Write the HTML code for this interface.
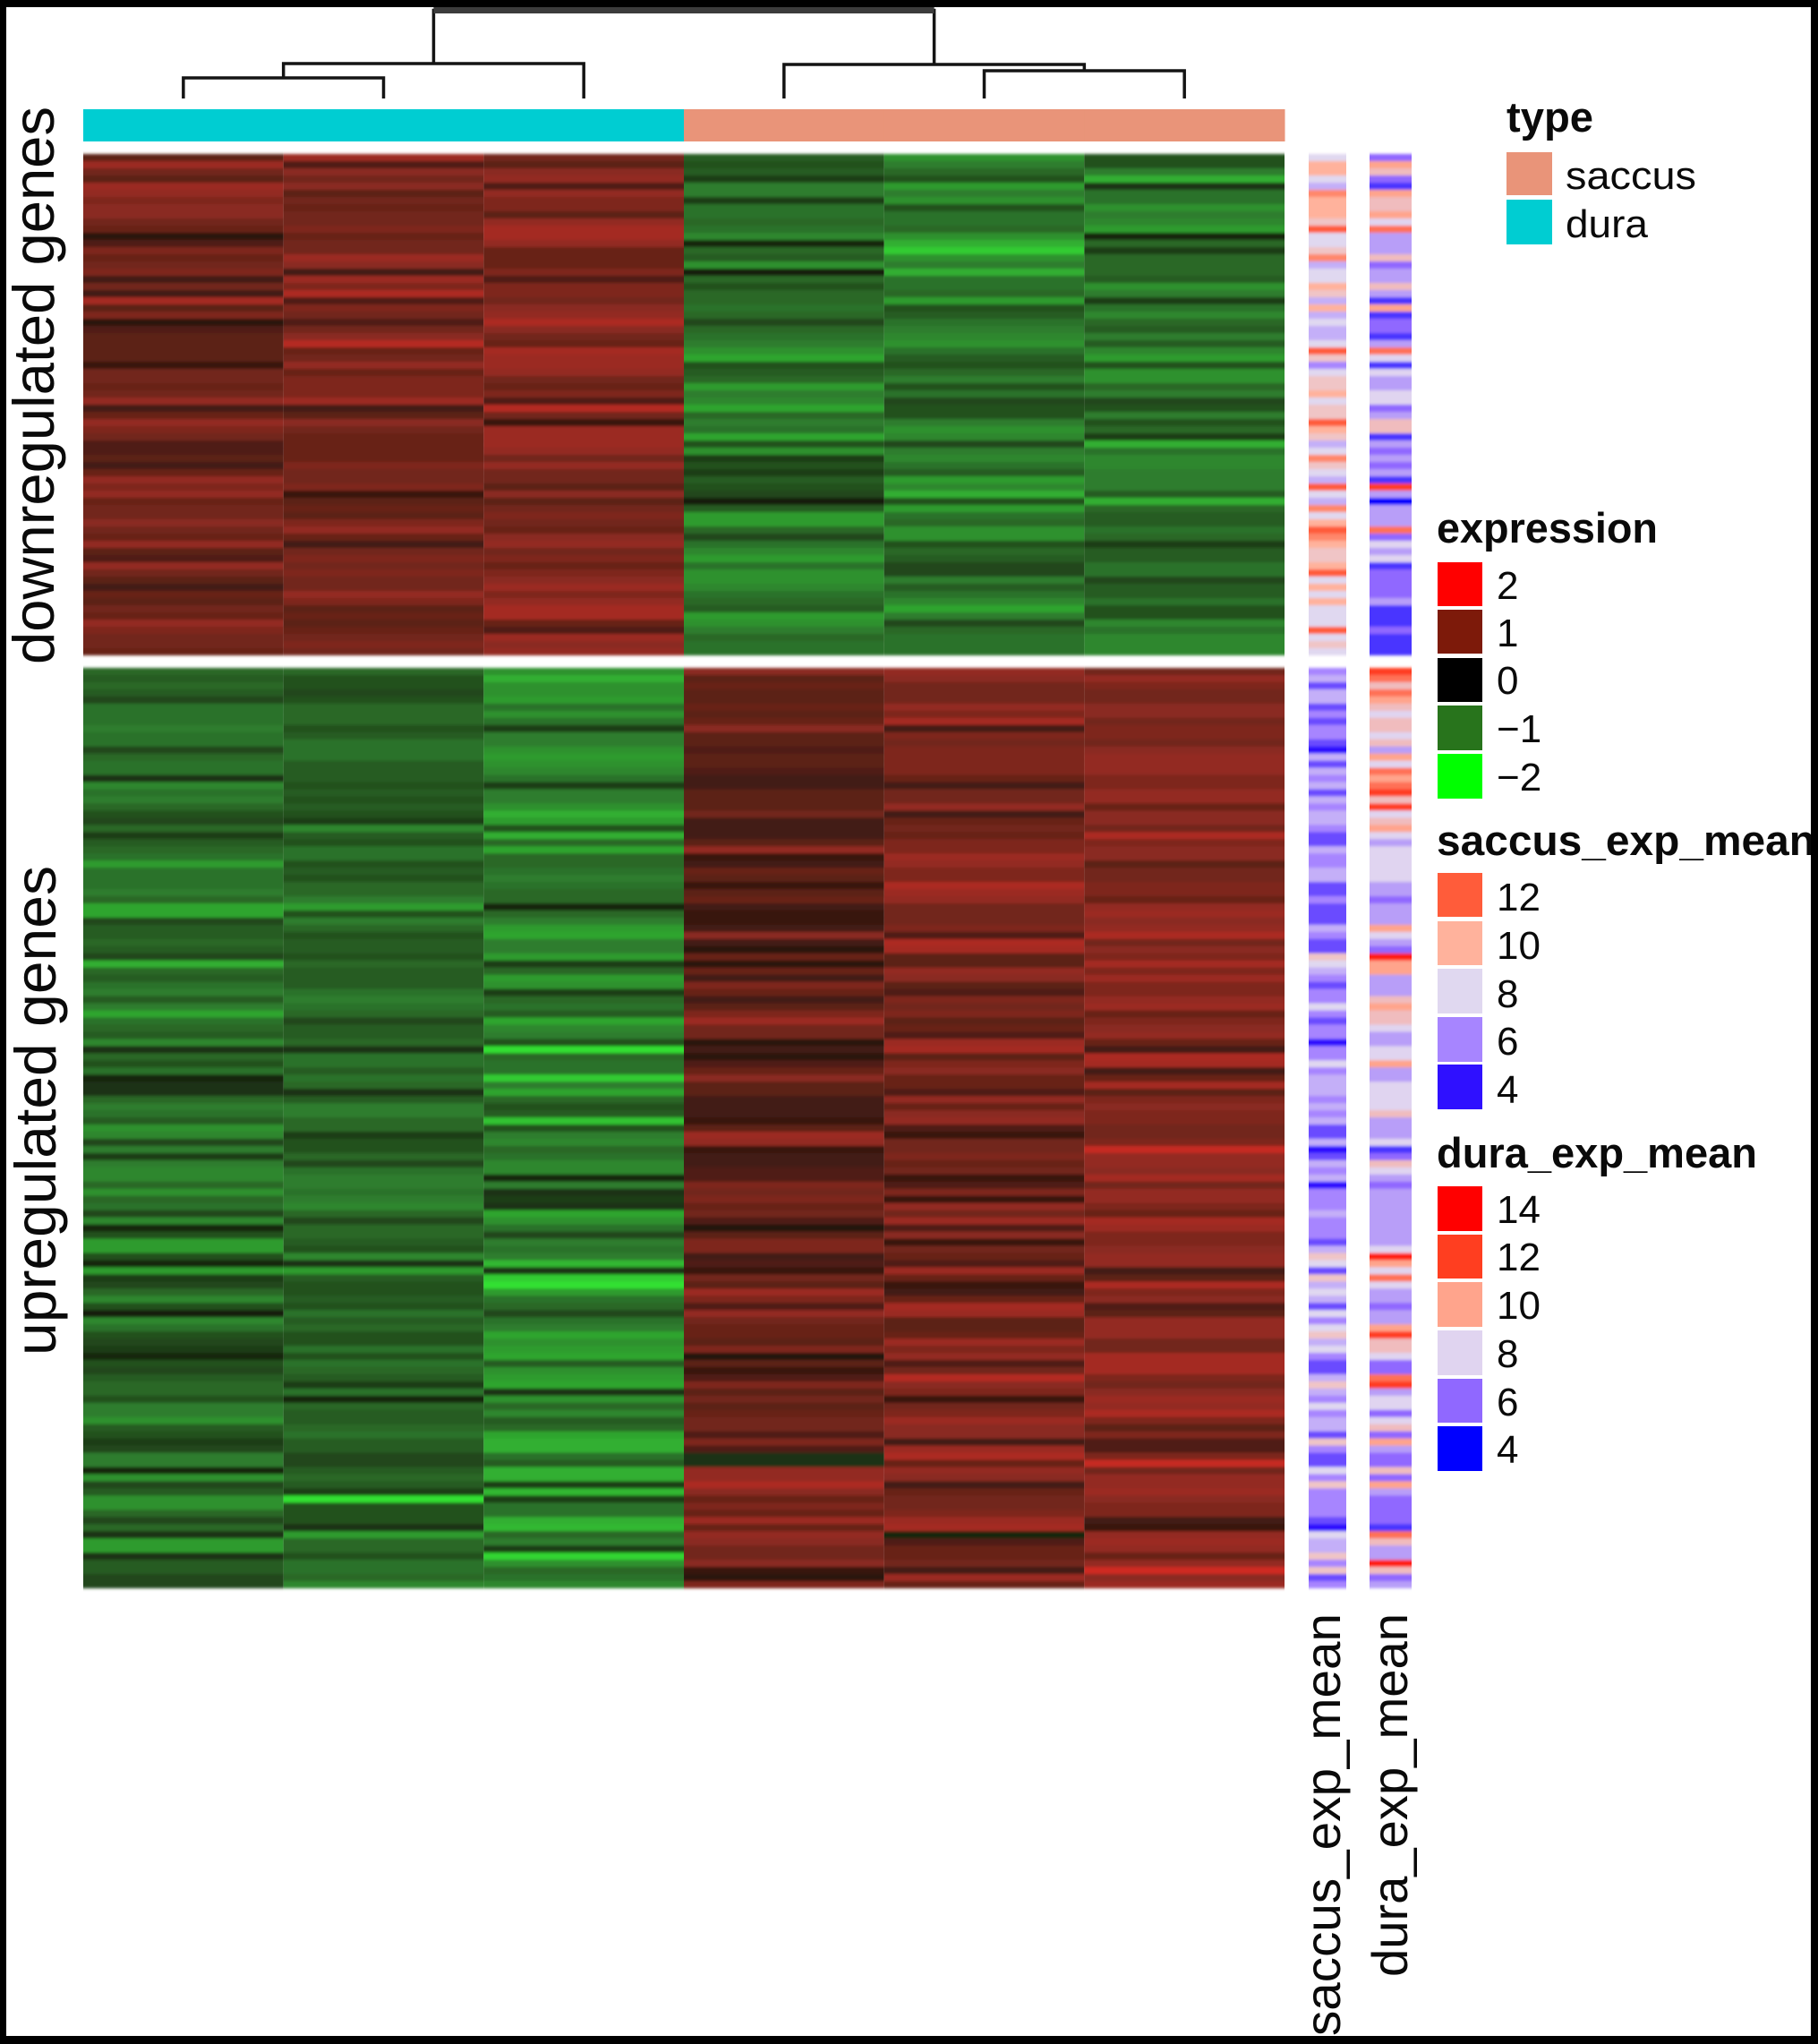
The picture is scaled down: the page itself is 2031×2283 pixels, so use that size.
<!DOCTYPE html>
<html lang="en">
<head>
<meta charset="utf-8">
<title>Expression heatmap</title>
<style>
html,body{margin:0;padding:0;background:#fff}
svg{display:block}
text{font-family:"Liberation Sans",sans-serif;fill:#0a0a0a}
.t{font-weight:bold;font-size:47px}
.l{font-size:44px}
.r{font-size:65px}
.a{font-size:56px}
</style>
</head>
<body>
<svg id="chart" width="2031" height="2283" viewBox="0 0 2031 2283" xmlns="http://www.w3.org/2000/svg">
<defs><filter id="soft" x="0" y="-2%" width="100%" height="104%"><feGaussianBlur stdDeviation="0 1.6"/></filter></defs>
<rect width="2031" height="2283" fill="#fff"/>
<g id="dendrogram"></g>
<g id="typeBar"></g>
<g id="heat" filter="url(#soft)"></g>
<g id="side" filter="url(#soft)"></g>

<text class="r" transform="translate(60,742) rotate(-90)" textLength="623" lengthAdjust="spacingAndGlyphs">downregulated genes</text>
<text class="r" transform="translate(62,1514) rotate(-90)" textLength="547" lengthAdjust="spacingAndGlyphs">upregulated genes</text>
<text class="a" text-anchor="end" transform="translate(1497,1802) rotate(-90)" textLength="472" lengthAdjust="spacingAndGlyphs">saccus_exp_mean</text>
<text class="a" text-anchor="end" transform="translate(1572,1802) rotate(-90)" textLength="406" lengthAdjust="spacingAndGlyphs">dura_exp_mean</text>

<g>
<text class="t" x="1683" y="147" textLength="97" lengthAdjust="spacingAndGlyphs">type</text>
<rect x="1683" y="170" width="51" height="48" fill="#e99479"/>
<rect x="1683" y="223" width="51" height="50" fill="#00cdd2"/>
<text class="l" x="1749" y="211" textLength="146" lengthAdjust="spacingAndGlyphs">saccus</text>
<text class="l" x="1749" y="265" textLength="92" lengthAdjust="spacingAndGlyphs">dura</text>
</g>

<g>
<text class="t" x="1605" y="606" textLength="247" lengthAdjust="spacingAndGlyphs">expression</text>
<rect x="1606" y="628" width="50" height="49" fill="#ff0000"/>
<rect x="1606" y="681" width="50" height="49" fill="#7d1a0a"/>
<rect x="1606" y="735" width="50" height="49" fill="#000000"/>
<rect x="1606" y="788" width="50" height="50" fill="#28741c"/>
<rect x="1606" y="842" width="50" height="50" fill="#00ff00"/>
<text class="l" x="1672" y="669">2</text>
<text class="l" x="1672" y="722">1</text>
<text class="l" x="1672" y="775">0</text>
<text class="l" x="1672" y="829">−1</text>
<text class="l" x="1672" y="883">−2</text>
</g>

<g>
<text class="t" x="1605" y="955" textLength="423" lengthAdjust="spacingAndGlyphs">saccus_exp_mean</text>
<rect x="1606" y="975" width="50" height="49" fill="#ff5c3a"/>
<rect x="1606" y="1029" width="50" height="49" fill="#ffb29c"/>
<rect x="1606" y="1082" width="50" height="50" fill="#e0d8f0"/>
<rect x="1606" y="1136" width="50" height="50" fill="#a785ff"/>
<rect x="1606" y="1189" width="50" height="50" fill="#2f10ff"/>
<text class="l" x="1672" y="1017">12</text>
<text class="l" x="1672" y="1071">10</text>
<text class="l" x="1672" y="1125">8</text>
<text class="l" x="1672" y="1178">6</text>
<text class="l" x="1672" y="1232">4</text>
</g>

<g>
<text class="t" x="1605" y="1304" textLength="358" lengthAdjust="spacingAndGlyphs">dura_exp_mean</text>
<rect x="1606" y="1325" width="50" height="50" fill="#ff0000"/>
<rect x="1606" y="1379" width="50" height="49" fill="#ff3e20"/>
<rect x="1606" y="1432" width="50" height="50" fill="#ffa48c"/>
<rect x="1606" y="1486" width="50" height="50" fill="#e0d4f0"/>
<rect x="1606" y="1540" width="50" height="49" fill="#9068ff"/>
<rect x="1606" y="1593" width="50" height="50" fill="#0000ff"/>
<text class="l" x="1672" y="1366">14</text>
<text class="l" x="1672" y="1419">12</text>
<text class="l" x="1672" y="1473">10</text>
<text class="l" x="1672" y="1527">8</text>
<text class="l" x="1672" y="1581">6</text>
<text class="l" x="1672" y="1634">4</text>
</g>

<path d="M0 0H2031V2283H0ZM7 8V2274H2023V8Z" fill="#000" fill-rule="evenodd"/>
</svg>

<script>
// Sample order left to right, with annotation class.
const sampleTypes = ["dura","dura","dura","saccus","saccus","saccus"];

// Dendrogram merges: [left child, right child, height]. Child ids 0-5 are leaves, 6+ earlier merges.
const dendroMerges = [[0,1,23],[6,2,39],[4,5,31],[3,8,38],[7,9,98.5]];

// Expression values in tenths (12 = 1.2), one array per sample, rows top to bottom.
const topS1 = [6,12,8,6,12,11,9,10,10,8,7,2,5,9,7,8,9,4,8,4,13,6,9,2,5,6,6,6,6,3,8,8,7,8,11,4,7,11,9,8,5,5,6,4,7,11,9,11,7,8,8,10,8,7,11,6,5,11,8,6,4,7,6,8,7,11,9,8,8,7];
const topS2 = [12,5,10,8,10,6,8,7,8,8,9,7,8,8,12,10,4,12,9,14,5,9,8,5,8,10,15,7,8,11,7,9,9,9,12,4,6,10,8,7,7,7,7,9,8,8,9,3,6,7,6,9,11,7,4,8,9,8,9,8,8,11,9,6,7,6,7,8,9,8];
const topS3 = [8,6,10,11,5,11,9,9,6,11,13,13,11,7,7,7,9,5,9,9,8,10,11,14,10,8,7,13,12,12,11,8,7,9,5,15,8,3,12,12,12,11,8,11,8,8,6,10,6,8,9,8,7,10,11,8,9,7,9,10,12,9,11,13,13,7,5,12,10,11];
const topS4 = [-7,-6,-7,-4,-10,-10,-4,-9,-9,-8,-9,-11,-2,-8,-7,-12,-1,-8,-6,-8,-8,-9,-8,-5,-8,-9,-10,-12,-14,-6,-7,-8,-13,-10,-11,-14,-8,-10,-9,-14,-6,-12,-4,-6,-4,-7,-6,-5,-1,-7,-13,-13,-8,-5,-9,-11,-13,-9,-12,-12,-11,-9,-8,-7,-13,-12,-10,-8,-9,-9];
const topS5 = [-12,-10,-8,-6,-13,-10,-12,-6,-9,-9,-8,-12,-15,-18,-12,-10,-15,-9,-9,-8,-13,-6,-7,-9,-10,-11,-12,-9,-7,-6,-8,-10,-6,-9,-5,-6,-6,-10,-12,-11,-5,-10,-11,-9,-7,-13,-11,-15,-6,-13,-9,-8,-12,-12,-6,-8,-7,-5,-5,-10,-7,-9,-11,-14,-10,-5,-8,-9,-9,-9];
const topS6 = [-6,-6,-10,-15,-3,-9,-9,-12,-10,-11,-13,-2,-8,-4,-8,-8,-8,-7,-12,-10,-4,-9,-11,-8,-7,-10,-7,-11,-13,-6,-12,-12,-8,-10,-5,-6,-10,-6,-8,-4,-15,-9,-11,-11,-10,-10,-10,-7,-15,-8,-7,-7,-9,-8,-4,-7,-7,-9,-9,-5,-7,-7,-9,-6,-6,-11,-9,-11,-11,-11];

const botS1 = [-8,-7,-8,-7,-5,-9,-9,-9,-10,-9,-9,-5,-8,-9,-9,-3,-11,-9,-10,-8,-6,-5,-8,-4,-7,-8,-9,-13,-9,-9,-9,-10,-8,-14,-14,-5,-7,-7,-8,-7,-5,-15,-8,-7,-9,-10,-7,-10,-14,-9,-8,-7,-11,-3,-8,-6,-9,-2,-3,-3,-8,-10,-9,-7,-12,-11,-5,-10,-4,-10,-11,-11,-8,-12,-8,-9,-5,-11,-2,-6,-13,-13,-6,-2,-13,-4,-5,-8,-11,-6,-1,-11,-9,-6,-5,-4,-2,-6,-5,-7,-8,-8,-6,-10,-10,-12,-7,-6,-4,-5,-10,-10,-2,-12,-5,-7,-12,-12,-8,-5,-8,-3,-13,-13,-3,-7,-7,-5,-5];
const botS2 = [-8,-6,-6,-5,-6,-8,-8,-8,-6,-7,-9,-9,-9,-7,-7,-7,-6,-7,-6,-7,-6,-4,-11,-7,-6,-9,-9,-6,-7,-6,-8,-8,-10,-13,-6,-10,-8,-6,-7,-7,-6,-8,-7,-7,-7,-9,-10,-9,-8,-5,-7,-7,-8,-3,-9,-9,-7,-9,-8,-3,-7,-10,-10,-8,-8,-4,-6,-6,-8,-5,-9,-10,-10,-9,-10,-11,-8,-5,-8,-8,-7,-6,-11,-3,-13,-7,-6,-6,-7,-6,-9,-7,-8,-6,-6,-9,-6,-9,-8,-7,-4,-9,-2,-8,-7,-7,-8,-9,-7,-7,-5,-5,-7,-8,-7,-4,-20,-6,-6,-6,-3,-13,-8,-8,-6,-9,-9,-8,-11];
const botS3 = [-12,-15,-12,-12,-13,-9,-12,-9,-4,-10,-10,-12,-13,-12,-11,-9,-4,-10,-10,-12,-15,-13,-6,-15,-8,-14,-8,-8,-9,-10,-9,-8,-8,-2,-8,-10,-13,-14,-10,-10,-13,-4,-8,-13,-12,-4,-8,-9,-7,-14,-11,-10,-6,-20,-8,-9,-9,-18,-10,-14,-8,-6,-7,-17,-6,-10,-11,-8,-9,-11,-11,-2,-10,-3,-4,-3,-14,-12,-9,-5,-10,-9,-10,-16,-3,-18,-20,-13,-9,-8,-5,-9,-10,-14,-12,-13,-14,-7,-12,-13,-14,-3,-12,-8,-11,-7,-8,-14,-15,-15,-9,-7,-15,-15,-4,-16,-4,-9,-9,-15,-16,-8,-10,-4,-19,-12,-8,-9,-11];
const botS4 = [10,6,7,6,6,7,6,7,10,6,6,5,6,6,5,4,4,6,6,6,8,4,4,4,6,11,3,4,7,6,3,6,7,4,3,3,4,10,4,2,7,2,7,4,9,7,4,6,9,12,8,8,2,4,2,5,7,10,6,6,4,4,4,3,6,12,11,3,4,4,5,5,9,8,9,7,8,5,1,6,9,9,4,5,3,8,6,12,9,5,11,8,7,7,6,9,1,6,3,5,9,6,8,6,7,8,8,5,9,5,-3,-3,11,11,14,10,7,9,7,12,7,11,10,8,8,10,3,2,9];
const botS5 = [11,10,8,8,8,11,9,13,4,9,8,9,9,9,9,7,4,8,8,11,4,7,8,7,9,9,12,11,9,9,14,12,11,8,8,8,9,5,14,13,6,6,11,10,6,5,9,8,9,6,7,5,12,13,6,9,10,7,7,5,11,7,10,11,5,3,8,8,9,7,8,3,5,9,3,11,8,12,5,10,3,8,7,5,12,7,3,4,7,13,12,6,6,7,12,9,11,5,8,15,10,9,3,8,9,12,10,10,4,12,14,7,11,10,4,7,8,8,9,12,13,-2,5,7,7,8,4,12,7];
const botS6 = [8,11,9,8,8,10,10,8,9,9,8,10,11,11,11,9,9,11,11,7,10,10,8,14,9,10,10,6,8,8,9,9,7,11,12,10,11,14,8,10,9,13,9,12,9,9,11,12,7,9,10,11,7,4,14,13,4,7,13,6,9,10,9,9,8,8,9,17,11,11,10,13,8,11,11,9,7,13,12,9,9,10,11,11,4,6,14,9,10,5,6,11,11,11,8,8,13,13,13,9,8,10,12,11,14,9,6,9,5,5,9,17,8,11,11,12,10,9,9,4,3,11,12,11,7,11,18,10,12];

// Side annotation values (mean log expression), rows top to bottom.
const saccusTop = [8,10,10,8,7,11,10,10,10,9,12,8,8,9,11,7,8,8,10,9,7,10,7,8,7,7,8,13,9,6,8,9,9,10,8,9,9,12,10,9,7,8,11,9,8,7,14,8,7,11,8,10,13,11,10,9,9,10,13,8,10,8,10,8,8,8,12,8,9,8];
const duraTop = [6,10,9,6,5,10,9,9,10,8,11,7,7,7,9,6,7,7,9,7,5,10,5,6,6,5,7,11,8,5,8,7,7,8,8,6,7,9,9,5,7,6,7,6,7,5,12,7,4,7,7,7,11,6,8,7,8,5,6,6,6,6,7,5,5,5,6,5,5,5];
const saccusBot = [6,7,5,7,7,5,6,5,6,6,5,4,7,5,7,6,7,5,7,6,7,7,6,5,5,7,6,6,7,7,5,5,6,5,5,5,7,6,5,5,9,8,7,6,5,6,6,8,6,5,6,6,4,6,6,8,6,7,7,7,6,7,6,7,5,5,7,4,5,7,6,7,4,6,6,6,7,6,6,6,5,7,9,8,5,9,7,8,7,5,8,6,8,9,7,8,6,5,5,7,9,7,6,8,6,7,7,5,9,6,5,5,8,6,9,6,6,6,6,5,4,8,7,7,9,6,9,5,6];
const duraBot = [12,11,9,11,10,9,8,9,9,8,9,7,10,8,11,10,11,12,9,12,8,9,10,8,7,8,8,8,8,8,7,7,6,7,7,7,10,8,7,6,13,10,10,7,7,7,9,10,9,9,8,7,7,8,8,10,7,7,8,8,8,8,9,7,7,7,8,5,6,9,8,7,6,7,7,7,7,7,7,7,7,8,13,10,8,11,8,7,7,6,7,7,10,12,9,9,8,6,6,11,12,7,8,8,6,8,9,6,10,7,6,6,9,6,10,7,6,6,6,6,5,11,9,7,7,13,9,6,7];

const svgNS = "http://www.w3.org/2000/svg";
const panelX0 = 93, colW = 223.67;
const topPanel = [172, 732], botPanel = [746, 1774];
const xScale = i => panelX0 + i * colW;
const rowY = (panel, n, i) => panel[0] + (panel[1] - panel[0]) * i / n;

function hex(c){return [1,3,5].map(i=>parseInt(c.substr(i,2),16));}
function ramp(stops, colors, v){
  if(v<=stops[0]) return colors[0];
  for(let i=1;i<stops.length;i++){
    if(v<=stops[i]){
      const t=(v-stops[i-1])/(stops[i]-stops[i-1]), a=hex(colors[i-1]), b=hex(colors[i]);
      return "rgb("+a.map((x,k)=>Math.round(x+(b[k]-x)*t)).join(",")+")";
    }
  }
  return colors[colors.length-1];
}
const exprColor = v => ramp([-2,-1,0,1,2],["#30e030","#2f7d2f","#141008","#8a2a20","#e02a20"],v/10);
const saccusColor = v => ramp([4,6,8,10,12],["#2f10ff","#a785ff","#e0d8f0","#ffb29c","#ff5c3a"],v);
const duraColor = v => ramp([4,6,8,10,12,14],["#0000ff","#9068ff","#e0d4f0","#ffa48c","#ff3e20","#ff0000"],v);

function drawStrip(parent, values, panel, x, w, color){
  const n = values.length;
  values.forEach((v,i)=>{
    const el = document.createElementNS(svgNS,"rect");
    const y = rowY(panel,n,i);
    el.setAttribute("x",x);
    el.setAttribute("y",y);
    el.setAttribute("width",w);
    el.setAttribute("height",(i===n-1)?rowY(panel,n,i+1)-y:rowY(panel,n,i+1)-y+0.6);
    el.setAttribute("fill",color(v));
    
    
    parent.appendChild(el);
  });
}

const heat = document.getElementById("heat");
[topS1,topS2,topS3,topS4,topS5,topS6].forEach((c,i)=>drawStrip(heat,c,topPanel,xScale(i),colW,exprColor));
[botS1,botS2,botS3,botS4,botS5,botS6].forEach((c,i)=>drawStrip(heat,c,botPanel,xScale(i),colW,exprColor));

const side = document.getElementById("side");
drawStrip(side,saccusTop,topPanel,1462,42,saccusColor);
drawStrip(side,saccusBot,botPanel,1462,42,saccusColor);
drawStrip(side,duraTop,topPanel,1530,47,duraColor);
drawStrip(side,duraBot,botPanel,1530,47,duraColor);

const typeBar = document.getElementById("typeBar");
sampleTypes.forEach((t,i)=>{
  const el = document.createElementNS(svgNS,"rect");
  el.setAttribute("x",xScale(i));
  el.setAttribute("y",122);
  el.setAttribute("width",colW+0.5);
  el.setAttribute("height",36);
  el.setAttribute("fill",t==="dura"?"#00cdd2":"#e99479");
  
  
  typeBar.appendChild(el);
});

const dendro = document.getElementById("dendrogram");
const dendroBase = 110;
const nodes = sampleTypes.map((_,i)=>({x:xScale(i)+colW/2,h:0}));
dendroMerges.forEach((m,k)=>{
  const a=nodes[m[0]], b=nodes[m[1]], h=m[2];
  const isRoot = k===dendroMerges.length-1;
  const p = document.createElementNS(svgNS,"path");
  p.setAttribute("d","M"+a.x+" "+(dendroBase-a.h)+"V"+(dendroBase-h)+"H"+b.x+"V"+(dendroBase-b.h));
  p.setAttribute("fill","none");
  p.setAttribute("stroke","#141414");
  p.setAttribute("stroke-width",3.5);
  
  
  dendro.appendChild(p);
  if(isRoot){
    const bar = document.createElementNS(svgNS,"line");
    bar.setAttribute("x1",a.x);
    bar.setAttribute("x2",b.x);
    bar.setAttribute("y1",dendroBase-h);
    bar.setAttribute("y2",dendroBase-h);
    bar.setAttribute("stroke","#3c3c3c");
    bar.setAttribute("stroke-width",7);
    
    
    dendro.appendChild(bar);
  }
  nodes.push({x:(a.x+b.x)/2,h:h});
});
</script>
</body>
</html>
